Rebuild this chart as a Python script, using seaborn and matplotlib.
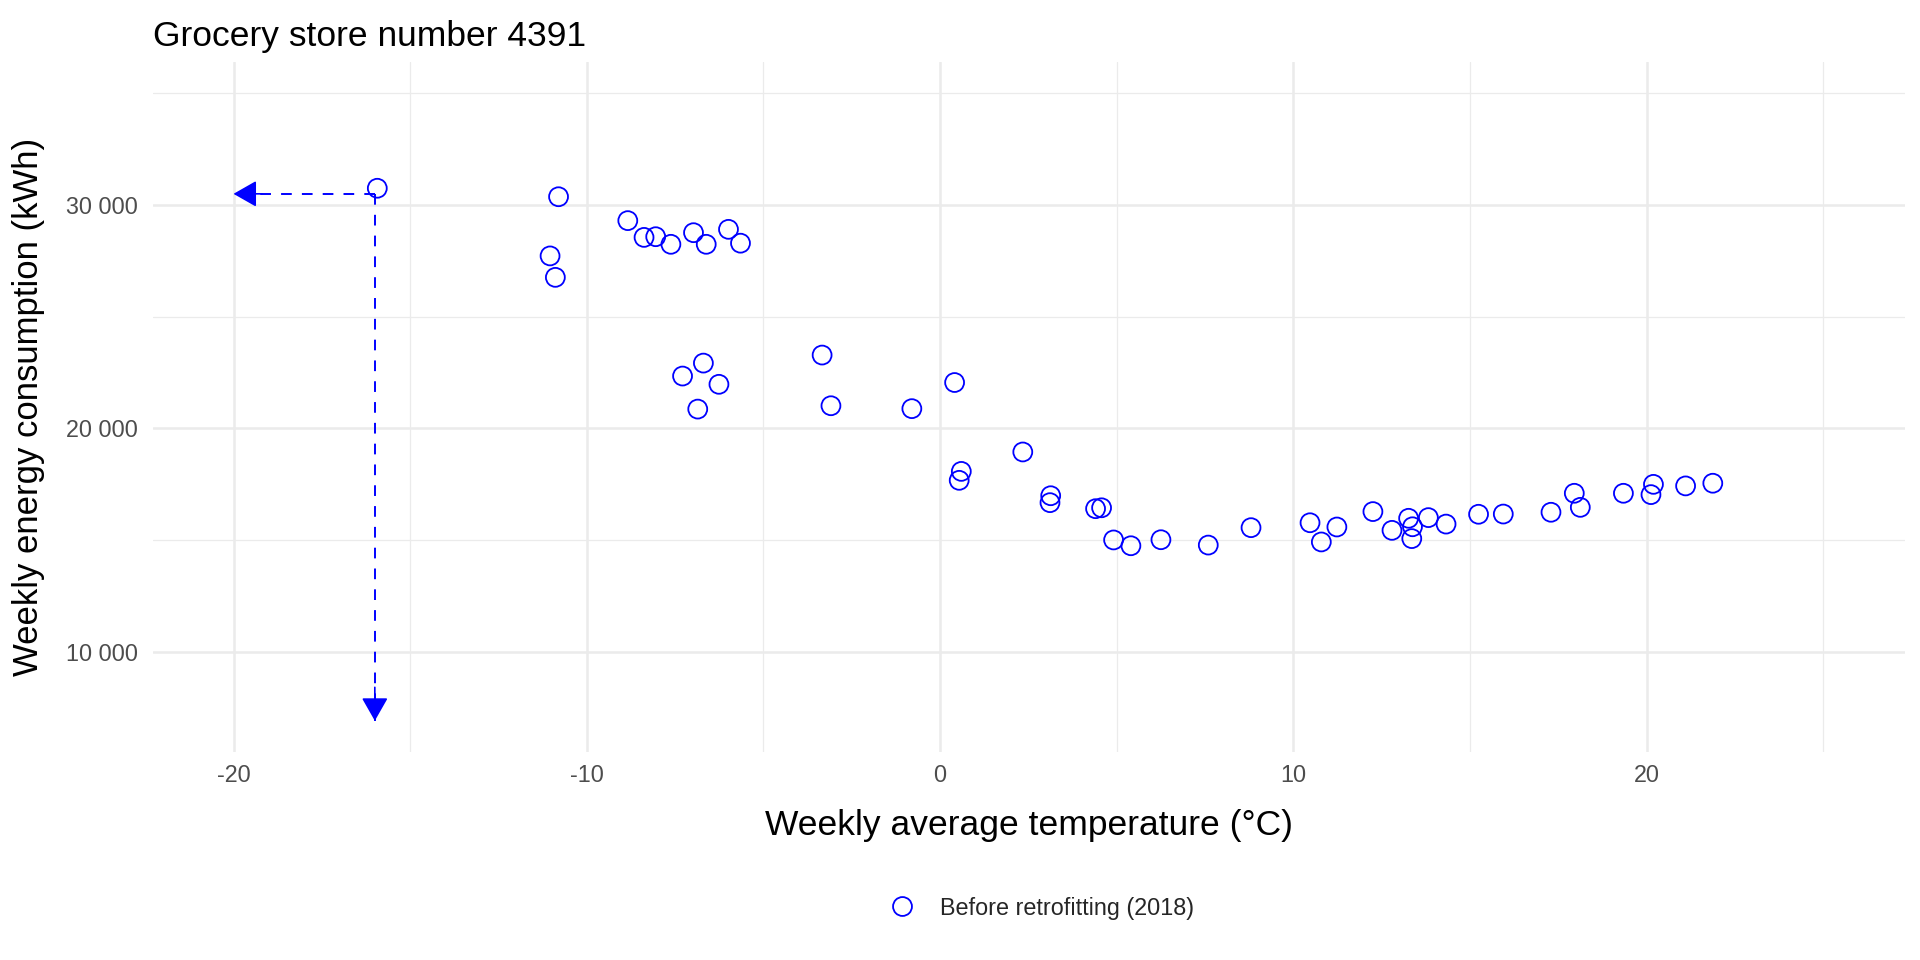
import numpy as np
import pandas as pd
import matplotlib
matplotlib.use("Agg")
import matplotlib.pyplot as plt
import seaborn as sns
from matplotlib.ticker import FixedLocator, FixedFormatter
from matplotlib.lines import Line2D

# ---------------- data ----------------
title = "Grocery store number 4391"
x_label = "Weekly average temperature (°C)"
y_label = "Weekly energy consumption (kWh)"
series_label = "Before retrofitting (2018)"

temps = [-15.93, -10.80, -11.04, -10.89, -8.84, -8.38, -8.05, -7.62, -6.98, -6.62,
         -5.99, -5.65, -7.29, -6.70, -6.26, -6.86, -3.34, -3.09, -0.80, 0.41,
         0.60, 0.54, 2.34, 3.13, 3.11, 4.40, 4.57, 4.91, 5.40, 6.25,
         7.59, 8.80, 10.47, 10.79, 11.23, 12.25, 12.79, 13.26, 13.37, 13.35,
         13.82, 14.32, 15.24, 15.94, 17.29, 17.95, 18.12, 19.34, 20.19, 20.12,
         21.10, 21.87]
energy = [30750, 30370, 27720, 26760, 29300, 28550, 28580, 28240, 28760, 28240,
          28910, 28290, 22340, 22920, 21970, 20860, 23280, 21010, 20880, 22050,
          18070, 17670, 18940, 16980, 16670, 16400, 16440, 15000, 14740, 15010,
          14770, 15550, 15770, 14910, 15580, 16270, 15430, 15970, 15590, 15060,
          16000, 15710, 16150, 16160, 16240, 17090, 16460, 17090, 17490, 17030,
          17420, 17540]

# reading guide arrows (start -> end)
arrow_start = (-16.0, 30500)
arrow_h_end = (-20.0, 30500)
arrow_v_end = (-16.0, 6900)

x_major = [-20, -10, 0, 10, 20]
x_major_labels = ["-20", "-10", "0", "10", "20"]
x_minor = [-15, -5, 5, 15, 25]
y_major = [10000, 20000, 30000]
y_major_labels = ["10 000", "20 000", "30 000"]
y_minor = [15000, 25000, 35000]
x_limits = (-22.27, 27.31)
y_limits = (5517, 36404)

# ---------------- style ----------------
sns.set_theme(style="white")
plt.rcParams["font.family"] = ["Liberation Sans", "DejaVu Sans"]
plt.rcParams["axes.unicode_minus"] = False

W, H = 1920, 960
fig = plt.figure(figsize=(W / 100, H / 100), dpi=100)
fig.patch.set_facecolor("white")
left, right, top, bottom = 153.3, 1905.0, 62.0, 751.7
ax = fig.add_axes([left / W, 1 - bottom / H, (right - left) / W, (bottom - top) / H])

df = pd.DataFrame({"temp": temps, "energy": energy})
sns.scatterplot(data=df, x="temp", y="energy", ax=ax, marker="o", s=185,
                color="blue", legend=False, zorder=3)
coll = ax.collections[0]
coll.set_facecolor("none")
coll.set_edgecolor("blue")
coll.set_linewidth(1.3)

# dashed guide lines with solid heads
ax.plot([arrow_start[0], arrow_h_end[0]], [arrow_start[1], arrow_h_end[1]],
        color="blue", lw=1.4, linestyle=(0, (5.5, 5.2)), zorder=2)
ax.plot([arrow_start[0], arrow_v_end[0]], [arrow_start[1], arrow_v_end[1]],
        color="blue", lw=1.4, linestyle=(0, (5.5, 5.2)), zorder=2)
head = dict(arrowstyle="-|>,head_length=0.72,head_width=0.41", color="blue",
            lw=1.2, shrinkA=0, shrinkB=0, mutation_scale=20)
ax.annotate("", xy=arrow_h_end, xytext=(arrow_h_end[0] + 0.8, arrow_h_end[1]),
            arrowprops=head, zorder=4)
ax.annotate("", xy=arrow_v_end, xytext=(arrow_v_end[0], arrow_v_end[1] + 1500),
            arrowprops=head, zorder=4)

ax.set_xlim(*x_limits)
ax.set_ylim(*y_limits)
ax.xaxis.set_major_locator(FixedLocator(x_major))
ax.xaxis.set_major_formatter(FixedFormatter(x_major_labels))
ax.xaxis.set_minor_locator(FixedLocator(x_minor))
ax.yaxis.set_major_locator(FixedLocator(y_major))
ax.yaxis.set_major_formatter(FixedFormatter(y_major_labels))
ax.yaxis.set_minor_locator(FixedLocator(y_minor))

ax.set_axisbelow(True)
ax.grid(which="major", color="#EBEBEB", lw=1.8)
ax.grid(which="minor", color="#EBEBEB", lw=0.9)
for s in ax.spines.values():
    s.set_visible(False)
ax.tick_params(axis="x", which="both", length=0, pad=9, labelsize=16.8, labelcolor="#4D4D4D")
ax.tick_params(axis="y", which="both", length=0, pad=10.8, labelsize=16.8, labelcolor="#4D4D4D")

ax.set_xlabel(x_label, fontsize=25.5, color="black", va="center")
ax.xaxis.set_label_coords(0.5, (bottom - 825) / (bottom - top))
ax.set_ylabel(y_label, fontsize=25, color="black", va="center")
ax.yaxis.set_label_coords((29 - left) / (right - left), 0.5)

fig.text(left / W, 1 - 46 / H, title, fontsize=25.5, ha="left", va="baseline", color="black")

handle = Line2D([], [], marker="o", ls="none", mfc="none", mec="blue", ms=13.6, mew=1.3)
fig.legend([handle], [series_label], loc="center left",
           bbox_to_anchor=(890.3 / W, 1 - 908 / H), frameon=False, fontsize=16.8,
           handlelength=1.0, handletextpad=1.13, borderpad=0, borderaxespad=0)

fig.savefig("out.png", dpi=100, facecolor="white")
